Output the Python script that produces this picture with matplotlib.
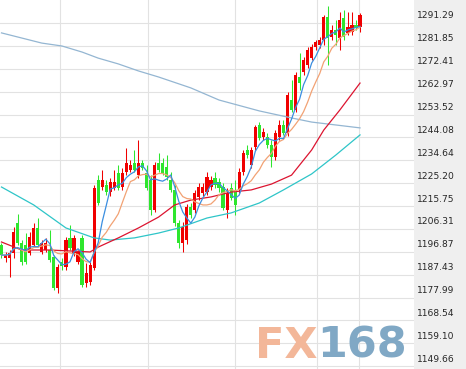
import matplotlib
matplotlib.use('Agg')
import matplotlib.pyplot as plt
import numpy as np
import pandas as pd
from matplotlib import transforms

# ---- data ----
opens = [1199.7,1194.3,1194.3,1196.4,1208.7,1200.5,1199.7,1196.4,1199.7,1206.7,
         1196.8,1197.6,1197.6,1194.7,1181.9,1192.6,1190.6,1202.6,1196.4,1192.6,
         1202.6,1184.0,1184.4,1190.2,1226.5,1223.6,1224.4,1221.5,1223.2,1229.4,
         1223.6,1229.8,1230.6,1233.5,1228.5,1233.5,1229.4,1226.5,1214.1,1233.5,
         1233.5,1231.9,1226.5,1222.4,1208.7,1200.5,1201.7,1215.3,1214.1,1219.5,
         1221.1,1221.5,1223.6,1227.3,1225.7,1223.6,1214.1,1223.2,1222.4,1222.4,
         1229.8,1238.9,1232.7,1240.1,1249.2,1244.2,1244.2,1241.0,1236.0,1244.2,
         1249.2,1245.9,1259.5,1255.4,1269.0,1271.1,1274.0,1276.8,1281.4,1282.2,
         1284.3,1293.8,1285.5,1288.4,1285.1,1293.4,1287.2,1287.6,1290.5,1289.6]
highs = [1200.5,1196.8,1197.6,1207.1,1212.5,1201.7,1204.6,1205.0,1208.7,1210.8,
         1201.7,1202.6,1205.9,1195.5,1191.8,1194.3,1203.0,1207.9,1203.8,1197.6,
         1203.8,1192.2,1192.6,1224.4,1228.5,1230.6,1226.5,1227.3,1230.6,1232.7,
         1231.4,1239.7,1234.7,1238.9,1243.0,1234.7,1232.7,1228.5,1233.9,1237.6,
         1235.6,1236.8,1229.8,1224.4,1210.0,1209.2,1216.6,1217.0,1222.4,1225.3,
         1225.3,1229.8,1228.1,1229.8,1227.3,1225.3,1223.2,1225.3,1226.5,1231.4,
         1238.9,1241.0,1240.1,1249.2,1250.4,1248.0,1245.9,1243.0,1247.1,1251.3,
         1251.3,1262.8,1267.8,1271.1,1278.9,1277.3,1281.4,1282.6,1284.3,1285.5,
         1294.6,1298.3,1290.5,1292.5,1295.8,1296.6,1295.8,1295.8,1292.5,1295.4]
lows = [1194.3,1192.6,1186.5,1194.3,1199.7,1191.4,1191.8,1195.5,1198.8,1198.8,
        1196.0,1196.8,1192.6,1181.1,1179.9,1189.4,1189.4,1197.6,1195.1,1191.8,
        1182.3,1182.3,1183.2,1189.4,1216.2,1222.4,1220.3,1219.9,1222.4,1222.4,
        1222.4,1228.5,1229.8,1229.8,1227.3,1230.6,1222.4,1212.0,1213.3,1229.8,
        1228.5,1226.5,1221.5,1207.5,1198.4,1196.8,1200.1,1210.8,1212.9,1218.2,
        1219.9,1220.3,1222.4,1223.2,1221.5,1214.1,1210.8,1218.2,1212.0,1221.1,
        1228.5,1235.6,1231.4,1238.9,1243.0,1243.0,1239.7,1231.9,1234.7,1243.0,
        1245.1,1244.6,1254.5,1254.5,1263.6,1269.8,1272.7,1276.0,1280.1,1281.0,
        1282.2,1274.0,1284.3,1282.2,1280.1,1284.3,1286.3,1286.3,1288.4,1287.6]
closes = [1195.5,1195.5,1196.4,1205.0,1200.5,1192.6,1192.6,1203.0,1206.7,1199.7,
          1200.5,1200.5,1193.5,1181.9,1190.6,1191.0,1201.7,1198.4,1202.6,1196.8,
          1183.2,1188.1,1191.4,1223.2,1217.0,1226.5,1221.5,1225.7,1225.7,1223.2,
          1229.4,1233.5,1232.7,1230.6,1233.5,1231.4,1223.2,1214.1,1232.7,1230.6,
          1229.4,1227.7,1222.4,1208.7,1200.5,1207.1,1215.3,1212.0,1221.1,1223.6,
          1223.6,1227.7,1226.5,1224.4,1223.2,1214.9,1221.1,1219.1,1216.2,1229.8,
          1237.6,1236.8,1238.9,1248.4,1243.8,1246.3,1241.0,1236.0,1245.9,1249.2,
          1245.9,1261.6,1255.4,1269.8,1266.5,1276.0,1280.1,1281.4,1283.4,1284.3,
          1293.8,1285.1,1288.4,1286.3,1292.5,1285.5,1289.6,1290.5,1289.2,1294.6]

# long moving averages (bar index, value)
ma_long_idx = [0, 5, 10, 15, 20, 24, 29, 34, 39, 47, 54, 64, 72, 77, 89]
ma_long_val = [1287.2,1285.1,1283.0,1281.8,1279.3,1276.8,1274.4,1271.5,1269.0,
               1264.5,1259.5,1255.0,1252.1,1250.4,1248.0]
ma60_idx = [0, 8, 16, 23, 27, 33, 39, 44, 51, 57, 64, 70, 77, 83, 89]
ma60_val = [1223.6,1216.2,1206.7,1202.6,1201.7,1202.6,1204.6,1206.7,1210.8,
            1212.9,1217.0,1222.4,1229.0,1236.8,1245.1]
ma30_idx = [0, 5, 12, 22, 24, 29, 34, 39, 43, 47, 52, 57, 62, 67, 72, 77, 80, 84, 89]
ma30_val = [1200.9,1197.6,1197.6,1196.8,1198.8,1202.6,1206.7,1211.2,1216.2,
            1218.2,1219.5,1221.5,1222.4,1224.8,1228.5,1238.9,1247.1,1255.4,1266.5]

month_lines = [14.5, 36.4, 57.9, 78.3, 88.7]

ytick_labels = ["1291.29","1281.85","1272.41","1262.97","1253.52","1244.08",
                "1234.64","1225.20","1215.75","1206.31","1196.87","1187.43",
                "1177.99","1168.54","1159.10","1149.66"]

# ---- figure ----
W, H = 466, 369
fig = plt.figure(figsize=(W/100, H/100), dpi=100)
fig.set_facecolor('#efefef')
ax = fig.add_axes([0, 0, 414/W, 1])
ax.set_facecolor('white')
for s in ax.spines.values():
    s.set_visible(False)
ax.set_xticks([]); ax.set_yticks([])
ax.set_xlim(-0.37, 102.4)
ax.set_ylim(1148.49, 1300.78)

tick_vals = [float(t) for t in ytick_labels]
for v in tick_vals:
    ax.axhline(v, color='#e2e2e2', lw=0.8, zorder=0)
for m in month_lines:
    ax.axvline(m, color='#e2e2e2', lw=0.8, zorder=0)

# watermark
ax.text(255/414, 1 - 358/369, 'FX', transform=ax.transAxes, fontsize=31,
        fontweight='bold', color='#f3b799', va='baseline', ha='left', zorder=1)
ax.text(317/414, 1 - 358/369, '168', transform=ax.transAxes, fontsize=31,
        fontweight='bold', color='#80a8c5', va='baseline', ha='left', zorder=1)

RED = '#f00000'
GREEN = '#2ee62e'
idx = np.arange(len(closes))
o = np.array(opens); c = np.array(closes); h = np.array(highs); l = np.array(lows)
cols = [RED if cc >= oo else GREEN for oo, cc in zip(o, c)]
ax.vlines(idx, l, h, colors=cols, lw=0.75, zorder=2)
bottoms = np.minimum(o, c)
heights = np.maximum(np.abs(c - o), 0.5)
ax.bar(idx, heights, bottom=bottoms, width=0.78, color=cols, lw=0, zorder=3)

s = pd.Series(closes)
ma5 = s.rolling(5, min_periods=1).mean()
ma10 = s.rolling(10, min_periods=1).mean()

ax.plot(ma_long_idx, ma_long_val, color='#94b6d2', lw=0.9, zorder=4)
ax.plot(ma60_idx, ma60_val, color='#2ec5c8', lw=0.9, zorder=4)
ax.plot(ma30_idx, ma30_val, color='#dc1430', lw=0.9, zorder=4)
ax.plot(idx, ma10, color='#f2a274', lw=0.9, zorder=5)
ax.plot(idx, ma5, color='#3a8ee0', lw=0.9, zorder=6)

# right axis labels above each grid line
blend = transforms.blended_transform_factory(fig.transFigure, ax.transData)
off = transforms.offset_copy(blend, fig=fig, x=0, y=7, units='dots')
for v, t in zip(tick_vals, ytick_labels):
    ax.text(417/W, v, t, transform=off, fontsize=6.6, color='#262626',
            va='center', ha='left', clip_on=False)

fig.savefig('out.png', dpi=100, facecolor=fig.get_facecolor())
